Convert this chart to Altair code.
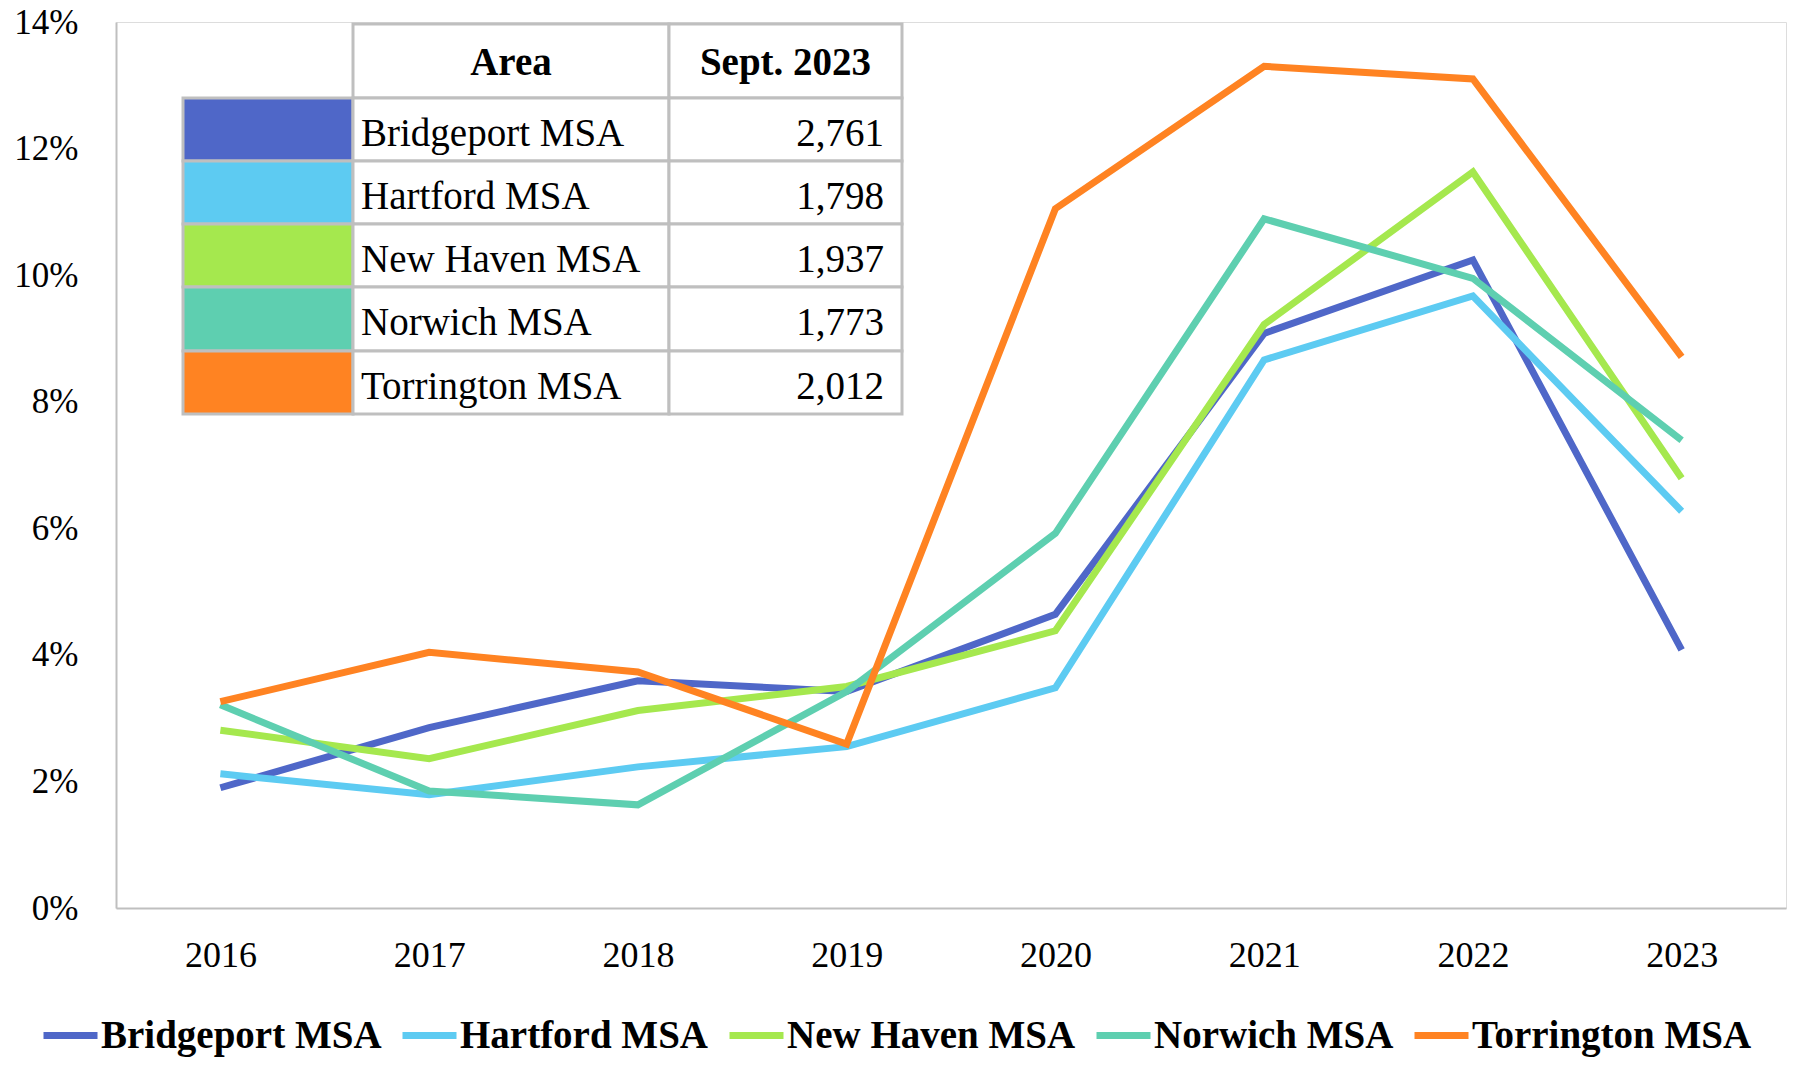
import altair as alt
import pandas as pd

years = ["2016", "2017", "2018", "2019", "2020", "2021", "2022", "2023"]
areas = ["Bridgeport MSA", "Hartford MSA", "New Haven MSA", "Norwich MSA", "Torrington MSA"]
colors = ["#4F67C8", "#5DCBF2", "#A5E84E", "#5ECFB0", "#FF8322"]

bridgeport = [1.90, 2.85, 3.59, 3.42, 4.64, 9.08, 10.24, 4.08]
hartford = [2.12, 1.79, 2.23, 2.55, 3.48, 8.66, 9.67, 6.27]
new_haven = [2.81, 2.36, 3.12, 3.50, 4.38, 9.22, 11.63, 6.79]
norwich = [3.21, 1.85, 1.63, 3.42, 5.92, 10.89, 9.95, 7.39]
torrington = [3.26, 4.04, 3.73, 2.59, 11.05, 13.30, 13.10, 8.71]
series = [bridgeport, hartford, new_haven, norwich, torrington]

sept_2023 = ["2,761", "1,798", "1,937", "1,773", "2,012"]
table_headers = ["Area", "Sept. 2023"]

FONT = "Liberation Serif"
W, H = 1670, 886
GRID = "#BFBFBF"

rows = []
for a, vals in zip(areas, series):
    for y, v in zip(years, vals):
        rows.append({"year": y, "area": a, "value": v / 100})
df = pd.DataFrame(rows)

lines = alt.Chart(df).mark_line(strokeWidth=7).encode(
    x=alt.X("year:O", sort=years,
            axis=alt.Axis(title=None, labelAngle=0, ticks=False, domainColor=GRID,
                          domainWidth=2, labelFontSize=36, labelFont=FONT,
                          labelColor="#000", labelPadding=30, grid=False)),
    y=alt.Y("value:Q", scale=alt.Scale(domain=[0, 0.14]),
            axis=alt.Axis(title=None, format=".0%", values=[0, .02, .04, .06, .08, .10, .12, .14],
                          ticks=False, domainColor=GRID, domainWidth=2, grid=False,
                          labelFontSize=35, labelFont=FONT, labelColor="#000", labelPadding=38)),
    color=alt.Color("area:N", sort=areas, scale=alt.Scale(domain=areas, range=colors),
                    legend=alt.Legend(title=None, orient="none", direction="horizontal",
                                      legendX=-76, legendY=983, gridAlign="none",
                                      symbolType="stroke", symbolSize=2916, symbolStrokeWidth=7,
                                      labelFont=FONT, labelFontSize=39, labelFontWeight="bold",
                                      labelColor="#000", labelOffset=0, labelLimit=500,
                                      columnPadding=6)),
)

# table layout (layout constants, pixels inside the plot area)
col_edges = [67, 237, 553, 786]
row_edges = [2, 76, 139, 202, 265, 329, 392]

cells = []
cells.append({"x0": col_edges[1], "x1": col_edges[2], "y0": row_edges[0], "y1": row_edges[1], "fill": "#FFFFFF"})
cells.append({"x0": col_edges[2], "x1": col_edges[3], "y0": row_edges[0], "y1": row_edges[1], "fill": "#FFFFFF"})
for i, c in enumerate(colors):
    y0, y1 = row_edges[i + 1], row_edges[i + 2]
    cells.append({"x0": col_edges[0], "x1": col_edges[1], "y0": y0, "y1": y1, "fill": c})
    cells.append({"x0": col_edges[1], "x1": col_edges[2], "y0": y0, "y1": y1, "fill": "#FFFFFF"})
    cells.append({"x0": col_edges[2], "x1": col_edges[3], "y0": y0, "y1": y1, "fill": "#FFFFFF"})
cells_df = pd.DataFrame(cells)

xs = alt.Scale(domain=[0, W], range=[0, W])
ys = alt.Scale(domain=[0, H], range=[0, H])

table_rects = alt.Chart(cells_df).mark_rect(stroke=GRID, strokeWidth=3).encode(
    x=alt.X("x0:Q", scale=xs, axis=None), x2="x1:Q",
    y=alt.Y("y0:Q", scale=ys, axis=None), y2="y1:Q",
    fill=alt.Fill("fill:N", scale=None),
)

names_df = pd.DataFrame({
    "label": areas,
    "x": [col_edges[1] + 8] * 5,
    "y": [(row_edges[i + 1] + row_edges[i + 2]) / 2 for i in range(5)],
})
vals_df = pd.DataFrame({
    "label": sept_2023,
    "x": [col_edges[3] - 18] * 5,
    "y": [(row_edges[i + 1] + row_edges[i + 2]) / 2 for i in range(5)],
})
head_df = pd.DataFrame({
    "label": table_headers,
    "x": [(col_edges[1] + col_edges[2]) / 2, (col_edges[2] + col_edges[3]) / 2],
    "y": [(row_edges[0] + row_edges[1]) / 2] * 2,
})

def text_layer(d, align, weight, dy):
    return alt.Chart(d).mark_text(align=align, baseline="middle", dy=dy, font=FONT,
                                  fontSize=39, fontWeight=weight, color="#000").encode(
        x=alt.X("x:Q", scale=xs, axis=None),
        y=alt.Y("y:Q", scale=ys, axis=None),
        text="label:N",
    )

table = alt.layer(table_rects, text_layer(names_df, "left", "normal", 4),
                  text_layer(vals_df, "right", "normal", 4), text_layer(head_df, "center", "bold", 2))

chart = alt.layer(lines, table).resolve_scale(x="independent", y="independent").properties(
    width=W, height=H, padding={"left": 108, "top": 14, "right": 2, "bottom": 150},
    autosize=alt.AutoSizeParams(type="none")
).configure_view(stroke=None).configure(background="#FFFFFF")

chart.save("out.html", embed_options={"renderer": "svg", "actions": False})
